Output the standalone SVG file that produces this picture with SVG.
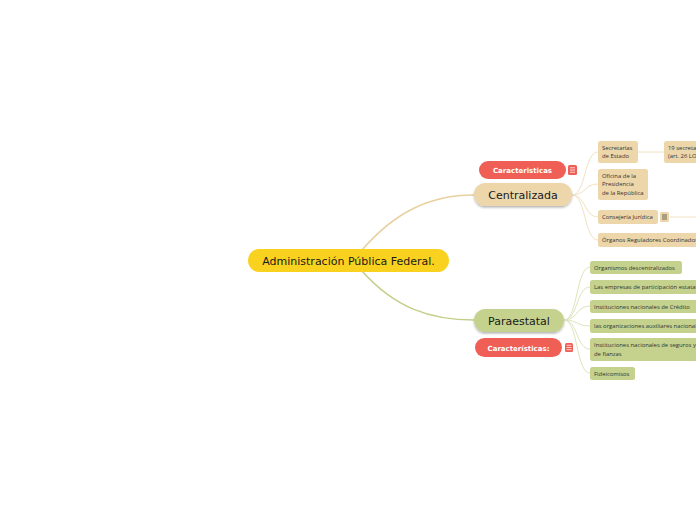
<svg xmlns="http://www.w3.org/2000/svg" width="696" height="520" viewBox="0 0 696 520">
<defs>
<style>
.main{font-family:"DejaVu Sans",Verdana,sans-serif;fill:#1a1a1a;text-anchor:middle}
.red{font-family:"DejaVu Sans",Verdana,sans-serif;font-weight:bold;fill:#fff;text-anchor:middle;font-size:7px}
.sm{font-family:"Open Sans","Liberation Sans",sans-serif;font-size:5.9px;fill:#333}
.beige{fill:#ecd6aa}
.green{fill:#c4d28d}
.redf{fill:#ef5f56}
.lc{fill:none;stroke:#f0e2c2;stroke-width:1}
.lg{fill:none;stroke:#dde4bd;stroke-width:1}
</style>
<filter id="sh" x="-10%" y="-20%" width="120%" height="160%">
<feDropShadow dx="0" dy="1.5" stdDeviation="1" flood-color="#000" flood-opacity="0.3"/>
</filter>
</defs>
<rect width="696" height="520" fill="#fff"/>
<g id="connectors">
<path d="M362,250 C395,212 430,195 474,195" fill="none" stroke="#e8cf9f" stroke-width="1.5"/>
<path d="M362,271 C395,308 430,320 474,320" fill="none" stroke="#c2cf88" stroke-width="1.5"/>
<path class="lc" d="M572,195 C586,195 584,152 598,152"/>
<path class="lc" d="M572,195 C586,195 584,184 598,184"/>
<path class="lc" d="M572,195 C586,195 584,217 598,217"/>
<path class="lc" d="M572,195 C586,195 584,240 598,240"/>
<path class="lc" d="M638,152 L664,152"/>
<path class="lc" d="M670,217 L696,217"/>
<path class="lg" d="M564,320 C578,320 576,267 590,267"/>
<path class="lg" d="M564,320 C578,320 576,287 590,287"/>
<path class="lg" d="M564,320 C578,320 576,306 590,306"/>
<path class="lg" d="M564,320 C578,320 576,326 590,326"/>
<path class="lg" d="M564,320 C578,320 576,349 590,349"/>
<path class="lg" d="M564,320 C578,320 576,373 590,373"/>
</g>
<g id="root">
<rect x="248" y="249" width="201" height="23" rx="11.5" fill="#f9d11f"/>
<text class="main" x="348.5" y="265" font-size="11">Administración Pública Federal.</text>
</g>
<g id="centralizada">
<rect x="474" y="183" width="98" height="23" rx="11.5" class="beige" filter="url(#sh)"/>
<text class="main" x="523" y="199" font-size="11">Centralizada</text>
</g>
<g id="caracteristicas1">
<rect x="479" y="161" width="87" height="18" rx="9" class="redf"/>
<text class="red" x="522.5" y="173">Caracteristicas</text>
<rect x="568" y="165" width="9" height="10" rx="1.5" class="redf"/>
<path d="M570,167.8h5M570,170h5M570,172.2h5" stroke="#fff" stroke-width="0.7"/>
</g>
<g id="paraestatal">
<rect x="474" y="309" width="90" height="23" rx="11.5" class="green" filter="url(#sh)"/>
<text class="main" x="519" y="325" font-size="11">Paraestatal</text>
</g>
<g id="caracteristicas2">
<rect x="475" y="338" width="87" height="19" rx="9.5" class="redf"/>
<text class="red" x="518.5" y="350.5">Características:</text>
<rect x="565" y="343" width="8" height="9" rx="1.5" class="redf"/>
<path d="M566.5,345.3h5M566.5,347.5h5M566.5,349.7h5" stroke="#fff" stroke-width="0.7"/>
</g>
<g id="secretarias">
<rect x="598" y="141" width="40" height="22" rx="2.5" class="beige"/>
<text class="sm" x="602" y="150">Secretarías</text>
<text class="sm" x="602" y="158">de Estado</text>
</g>
<g id="secretarias19">
<rect x="664" y="141" width="40" height="22" rx="2.5" class="beige"/>
<text class="sm" x="668" y="150">19 secretarías</text>
<text class="sm" x="668" y="158">(art. 26 LOAPF)</text>
</g>
<g id="oficina">
<rect x="598" y="169" width="50" height="31" rx="2.5" class="beige"/>
<text class="sm" x="602" y="178">Oficina de la</text>
<text class="sm" x="602" y="186">Presidencia</text>
<text class="sm" x="602" y="195">de la República</text>
</g>
<g id="consejeria">
<rect x="598" y="210" width="60" height="14" rx="2.5" class="beige"/>
<text class="sm" x="602" y="219">Consejería Jurídica</text>
<rect x="660" y="212" width="9" height="10" rx="1.5" class="beige"/>
<path d="M662,215h5M662,217h5M662,219h5" stroke="#333" stroke-width="0.7"/>
</g>
<g id="consejeria-child">
<rect x="696" y="210" width="40" height="14" rx="2.5" class="beige"/>
</g>
<g id="organos">
<rect x="598" y="233" width="110" height="14" rx="2.5" class="beige"/>
<text class="sm" x="602" y="242">Órganos Reguladores Coordinados</text>
</g>
<g id="organismos">
<rect x="590" y="261" width="92" height="13" rx="2.5" class="green"/>
<text class="sm" x="594" y="269.5">Organismos descentralizados</text>
</g>
<g id="empresas">
<rect x="590" y="280" width="120" height="14" rx="2.5" class="green"/>
<text class="sm" x="594" y="289">Las empresas de participación estatal</text>
</g>
<g id="credito">
<rect x="590" y="300" width="110" height="13" rx="2.5" class="green"/>
<text class="sm" x="594" y="308.5">Instituciones nacionales de Crédito</text>
</g>
<g id="auxiliares">
<rect x="590" y="319" width="120" height="14" rx="2.5" class="green"/>
<text class="sm" x="594" y="328">las organizaciones auxiliares nacionales</text>
</g>
<g id="seguros">
<rect x="590" y="338" width="110" height="23" rx="2.5" class="green"/>
<text class="sm" x="594" y="347">Instituciones nacionales de seguros y</text>
<text class="sm" x="594" y="356">de fianzas</text>
</g>
<g id="fideicomisos">
<rect x="590" y="367" width="45" height="13" rx="2.5" class="green"/>
<text class="sm" x="594" y="375.5">Fideicomisos</text>
</g>
</svg>
